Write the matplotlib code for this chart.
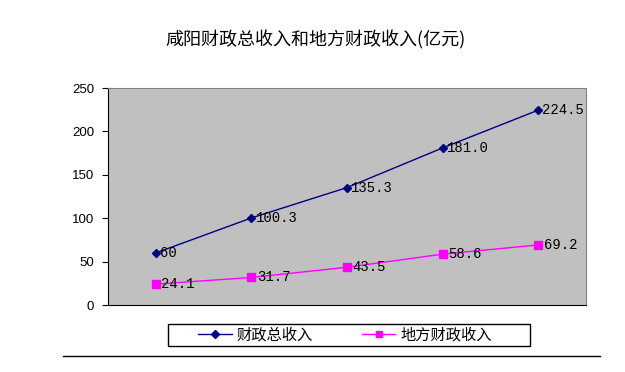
import matplotlib
matplotlib.use("Agg")
import matplotlib.pyplot as plt
from matplotlib.lines import Line2D
from matplotlib.patches import Rectangle

plt.rcParams['font.family'] = ['Noto Sans CJK SC', 'DejaVu Sans']

categories = ["1", "2", "3", "4", "5"]
total_income = [60, 100.3, 135.3, 181.0, 224.5]
local_income = [24.1, 31.7, 43.5, 58.6, 69.2]
total_labels = ["60", "100.3", "135.3", "181.0", "224.5"]
local_labels = ["24.1", "31.7", "43.5", "58.6", "69.2"]
yticks = [0, 50, 100, 150, 200, 250]

fig = plt.figure(figsize=(6.25, 3.72), dpi=100)
ax = fig.add_axes([0.1728, 0.1801, 0.7648, 0.5833])
ax.set_facecolor("#c0c0c0")

x = [i + 0.5 for i in range(len(categories))]
ax.plot(x, total_income, color="#000080", marker="D", markersize=4.5, linewidth=1)
ax.plot(x, local_income, color="#ff00ff", marker="s", markersize=5.5, linewidth=1)

for xi, v, s in zip(x, total_income, total_labels):
    ax.annotate(s, (xi, v), xytext=(3, 0), textcoords="offset points",
                va="center", ha="left", fontsize=10, family="Liberation Mono")
for xi, v, s in zip(x, local_income, local_labels):
    ax.annotate(s, (xi, v), xytext=(4, 0), textcoords="offset points",
                va="center", ha="left", fontsize=10, family="Liberation Mono")

ax.set_xlim(0, 5)
ax.set_ylim(0, 250)
ax.set_yticks(yticks)
ax.set_xticks([])
ax.tick_params(axis="y", labelsize=9.5, length=4, direction="out", pad=6)
for lbl in ax.get_yticklabels():
    lbl.set_family("Liberation Sans")
ax.spines["left"].set_color("black")
ax.spines["bottom"].set_color("black")
ax.spines["top"].set_color("#808080")
ax.spines["right"].set_color("#808080")

fig.text(0.505, 0.893, "咸阳财政总收入和地方财政收入(亿元)", ha="center", va="center", fontsize=13)

# legend box drawn by hand so its width matches
fig.add_artist(Rectangle((0.2688, 0.0699), 0.579, 0.059, transform=fig.transFigure,
                         fill=False, edgecolor="black", linewidth=1))
handles = [
    Line2D([], [], color="#000080", marker="D", markersize=4, linewidth=1),
    Line2D([], [], color="#ff00ff", marker="s", markersize=5, linewidth=1),
]
fig.legend(handles, ["财政总收入", "地方财政收入"], loc="center",
           bbox_to_anchor=(0.552, 0.0995), ncol=2, fontsize=11,
           frameon=False, handlelength=2.2, handletextpad=0.3,
           columnspacing=3.2, borderpad=0.1)

fig.add_artist(Line2D([0.1, 0.96], [0.043, 0.043], color="black", linewidth=1,
                      transform=fig.transFigure))

fig.savefig("out.png", dpi=100)
